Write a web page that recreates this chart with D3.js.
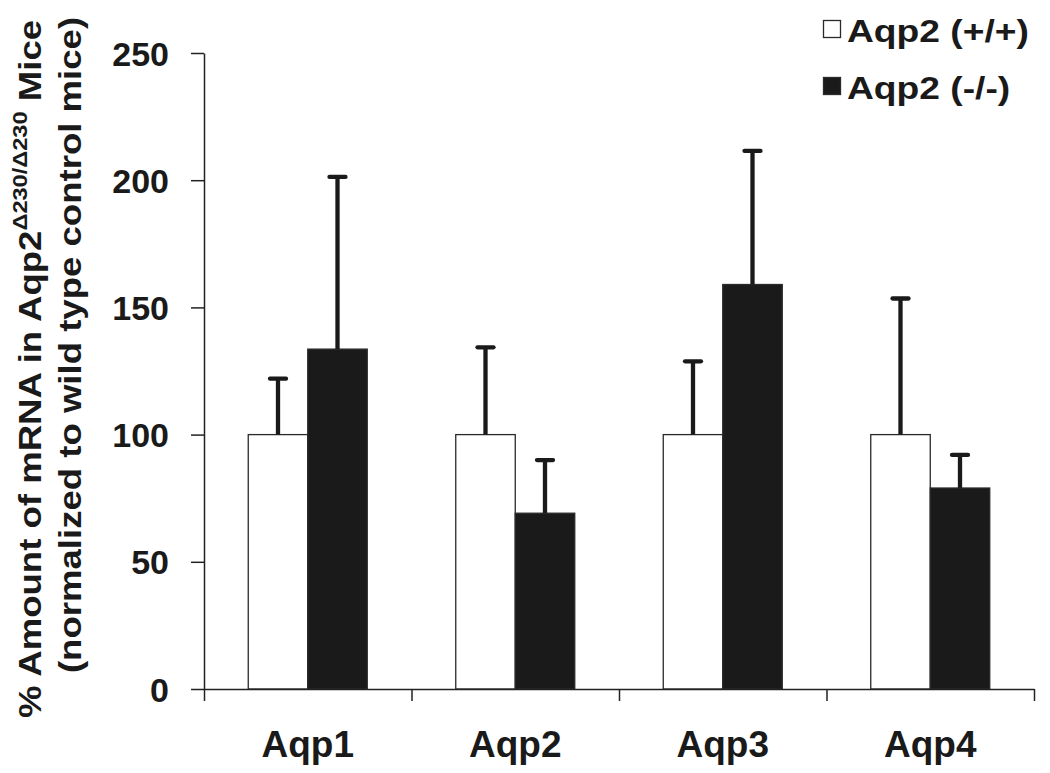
<!DOCTYPE html>
<html>
<head>
<meta charset="utf-8">
<script src="https://cdn.jsdelivr.net/npm/d3@7"></script>
<style>
  html, body { margin: 0; padding: 0; background: #fff; }
  svg { display: block; }
  text { font-family: "Liberation Sans", Arial, sans-serif; font-weight: bold; fill: #1a1a1a; }
</style>
</head>
<body>
<svg id="chart" width="1050" height="773"></svg>
<script>
// ---- data ----
const categories = ["Aqp1", "Aqp2", "Aqp3", "Aqp4"];
const seriesNames = ["Aqp2 (+/+)", "Aqp2 (-/-)"];
const wildTypeMeans = [100, 100, 100, 100];
const wildTypeErrTops = [122, 134.3, 128.8, 153.5];
const knockoutMeans = [133.6, 69.1, 159, 79];
const knockoutErrTops = [201.3, 90, 211.5, 92];
const yTickValues = [0, 50, 100, 150, 200, 250];

// ---- layout ----
const svg = d3.select("#chart");
const xLeft = 204, xRight = 1034, yBottom = 689, yTop = 53;
const ink = "#1a1a1a";

const x = d3.scaleBand().domain(categories).range([xLeft, xRight]).padding(0);
const xEdge = d3.scaleLinear().domain([0, categories.length]).range([xLeft, xRight]);
const barW = 59.5;
const x1 = d3.scaleBand().domain(seriesNames)
  .range([x.bandwidth() / 2 - barW, x.bandwidth() / 2 + barW]).padding(0);
const y = d3.scaleLinear().domain([0, 250]).range([yBottom, yTop]);

const series = [
  { name: seriesNames[0], means: wildTypeMeans, tops: wildTypeErrTops, fill: "#ffffff" },
  { name: seriesNames[1], means: knockoutMeans, tops: knockoutErrTops, fill: ink }
];

// bars
series.forEach(s => {
  const g = svg.append("g");
  g.selectAll("rect").data(categories).join("rect")
    .attr("x", c => x(c) + x1(s.name))
    .attr("y", (c, i) => y(s.means[i]))
    .attr("width", x1.bandwidth())
    .attr("height", (c, i) => y(0) - y(s.means[i]))
    .attr("fill", s.fill)
    .attr("stroke", "#2a2a2a")
    .attr("stroke-width", 1.3);
});

// error bars
series.forEach(s => {
  const g = svg.append("g");
  categories.forEach((c, i) => {
    const cx = x(c) + x1(s.name) + x1.bandwidth() / 2;
    g.append("line")
      .attr("x1", cx).attr("x2", cx)
      .attr("y1", y(s.means[i])).attr("y2", y(s.tops[i]))
      .attr("stroke", ink).attr("stroke-width", 4.3);
    g.append("line")
      .attr("x1", cx - 8).attr("x2", cx + 8)
      .attr("y1", y(s.tops[i])).attr("y2", y(s.tops[i]))
      .attr("stroke", ink).attr("stroke-width", 4.3)
      .attr("stroke-linecap", "round");
  });
});

// y axis
const yAxis = svg.append("g")
  .attr("transform", `translate(${xLeft},0)`)
  .call(d3.axisLeft(y).tickValues(yTickValues).tickSize(13).tickSizeOuter(0));
yAxis.select(".domain").attr("stroke", "#222").attr("stroke-width", 1.5);
yAxis.selectAll(".tick line").attr("stroke", "#222").attr("stroke-width", 1.5);
yAxis.selectAll(".tick text")
  .attr("x", -35).attr("dy", null).attr("y", 12)
  .attr("font-size", 34)
  .attr("text-anchor", "end")
  .attr("fill", ink);

// x axis (ticks at category boundaries)
const xAxis = svg.append("g")
  .attr("transform", `translate(0,${yBottom})`)
  .call(d3.axisBottom(xEdge).tickValues(d3.range(categories.length + 1)).tickFormat("").tickSize(12).tickSizeOuter(0));
xAxis.select(".domain").attr("stroke", "#222").attr("stroke-width", 1.5);
xAxis.selectAll(".tick line").attr("stroke", "#222").attr("stroke-width", 1.5);

// category labels
svg.append("g").selectAll("text").data(categories).join("text")
  .attr("x", c => x(c) + x.bandwidth() / 2)
  .attr("y", 757)
  .attr("text-anchor", "middle")
  .attr("font-size", 37)
  .text(c => c);

// y title
const t1 = svg.append("g").attr("transform", "translate(41,369) rotate(-90) scale(1.18,1)")
  .append("text").attr("text-anchor", "middle").attr("font-size", 31);
t1.append("tspan").text("% Amount of mRNA in Aqp2");
t1.append("tspan").attr("font-size", 20).attr("dy", -14).text("\u0394230/\u0394230");
t1.append("tspan").attr("dy", 14).text(" Mice");

svg.append("g").attr("transform", "translate(81,345) rotate(-90) scale(1.18,1)")
  .append("text").attr("text-anchor", "middle").attr("font-size", 31)
  .text("(normalized to wild type control mice)");

// legend
const legend = svg.append("g");
series.forEach((s, i) => {
  const ly = 20 + i * 57;
  legend.append("rect")
    .attr("x", 823.5).attr("y", ly + 0.5)
    .attr("width", 17).attr("height", 17)
    .attr("fill", s.fill)
    .attr("stroke", "#2a2a2a").attr("stroke-width", 1.3);
  legend.append("g").attr("transform", `translate(847,${ly + 22}) scale(1.2,1)`)
    .append("text").attr("font-size", 31).text(s.name);
});
</script>
</body>
</html>
